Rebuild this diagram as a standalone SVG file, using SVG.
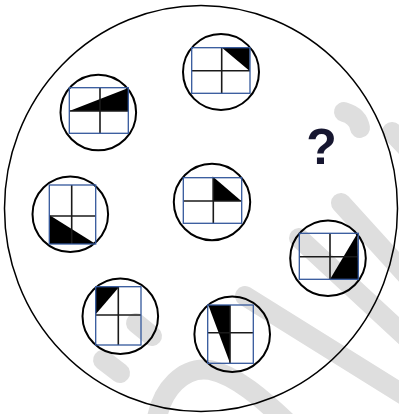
<svg xmlns="http://www.w3.org/2000/svg" width="399" height="414" viewBox="0 0 399 414">
<style>
.wm{fill:none;stroke:#dedede;stroke-width:20;stroke-linecap:round}
.ring{fill:none;stroke:#000;stroke-width:2}
.box{fill:none;stroke:#34589c;stroke-width:1.3}
.cross{stroke:#1a1a1a;stroke-width:1.6}
.tri{fill:#000}
</style>
<rect width="399" height="414" fill="#fff"/>
<g id="watermark">
<path class="wm" d="M344,112 Q358,116 360,128" stroke-width="17"/>
<path class="wm" d="M392,132 L430,172"/>
<path class="wm" d="M341,203 L420,290"/>
<path class="wm" d="M299,238 L420,350"/>
<path class="wm" d="M245,296 L420,405"/>
<path class="wm" d="M156,425 C160,388 185,366 210,370 C235,375 262,398 290,425"/>
<path class="wm" d="M136,323 L152,336" stroke-width="18"/>
<path class="wm" d="M103,360 L120,373" stroke-width="18"/>
</g>
<ellipse id="outer" cx="201" cy="208.5" rx="196.5" ry="203" fill="none" stroke="#000" stroke-width="1.5"/>
<g id="node1">
<circle class="ring" cx="221" cy="72" r="38"/>
<polygon class="tri" points="222,47.7 249.7,47.7 249.7,71"/>
<line class="cross" x1="221.7" y1="47.7" x2="221.7" y2="93.3"/>
<line class="cross" x1="191.7" y1="70.7" x2="250" y2="70.7"/>
<rect class="box" x="191.7" y="47.7" width="58.3" height="45.6"/>
</g>
<g id="node2">
<circle class="ring" cx="98.3" cy="112.5" r="37.8"/>
<polygon class="tri" points="69.3,111 128.3,88 128.3,111"/>
<line class="cross" x1="100" y1="87.7" x2="100" y2="133.3"/>
<line class="cross" x1="69.3" y1="111" x2="128.3" y2="111"/>
<rect class="box" x="69.3" y="87.7" width="59" height="45.6"/>
</g>
<g id="node3">
<circle class="ring" cx="70.3" cy="214.2" r="37.8"/>
<polygon class="tri" points="49.3,215 49.3,244 95.7,244"/>
<line class="cross" x1="71.7" y1="185" x2="71.7" y2="244"/>
<line class="cross" x1="49.3" y1="216" x2="95.7" y2="216"/>
<rect class="box" x="49.3" y="185" width="46.4" height="59"/>
</g>
<g id="node4">
<circle class="ring" cx="212" cy="202" r="38.2"/>
<polygon class="tri" points="212.7,176.5 212.7,201 241.3,201"/>
<line class="cross" x1="213.3" y1="177.7" x2="213.3" y2="223.3"/>
<line class="cross" x1="183.3" y1="201" x2="241.7" y2="201"/>
<rect class="box" x="183.3" y="177.7" width="58.4" height="45.6"/>
</g>
<g id="node5">
<circle class="ring" cx="328" cy="258.3" r="37.8"/>
<polygon class="tri" points="330,279.3 357.5,233.3 358.3,279.3"/>
<line class="cross" x1="330" y1="233.3" x2="330" y2="279.3"/>
<line class="cross" x1="299.3" y1="256.7" x2="358.3" y2="256.7"/>
<rect class="box" x="299.3" y="233.3" width="59" height="46"/>
</g>
<g id="node6">
<circle class="ring" cx="120.3" cy="316.3" r="37.8"/>
<polygon class="tri" points="95.7,286.7 119.3,286.7 95.7,314.3"/>
<line class="cross" x1="118.3" y1="286.7" x2="118.3" y2="345"/>
<line class="cross" x1="95.7" y1="315" x2="141" y2="315"/>
<rect class="box" x="95.7" y="286.7" width="45.3" height="58.3"/>
</g>
<g id="node7">
<circle class="ring" cx="232.2" cy="334.3" r="37.8"/>
<polygon class="tri" points="208.3,305 230,305 230,363.3"/>
<line class="cross" x1="230" y1="305" x2="230" y2="363.3"/>
<line class="cross" x1="207.7" y1="332.7" x2="253.3" y2="332.7"/>
<rect class="box" x="207.7" y="305" width="45.6" height="58.3"/>
</g>
<g id="question">
<text x="321.5" y="164" font-family="Liberation Sans, Arial, sans-serif" font-size="50" font-weight="bold" fill="#161630" text-anchor="middle">?</text>
</g>
</svg>
